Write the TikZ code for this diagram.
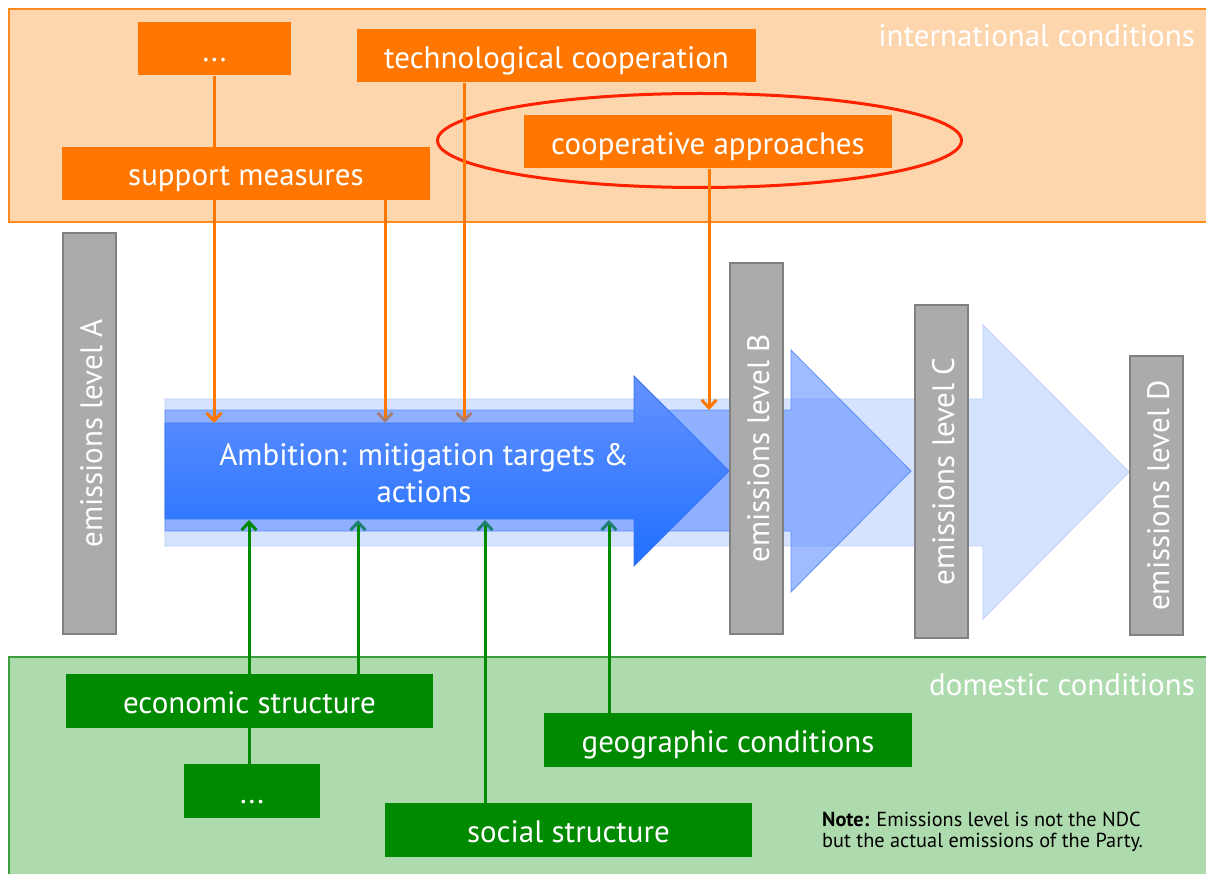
\documentclass[tikz,border=0pt]{standalone}
\usepackage{fontspec}
\setmainfont{PT Sans}
\usetikzlibrary{arrows.meta}
\definecolor{obg}{HTML}{FDD6AD}
\definecolor{oborder}{HTML}{FF8A1E}
\definecolor{obox}{HTML}{FF7700}
\definecolor{gbg}{HTML}{AEDBAD}
\definecolor{gborder}{HTML}{3C9E3C}
\definecolor{gbox}{HTML}{008A00}
\definecolor{barfill}{HTML}{ABABAB}
\definecolor{barline}{HTML}{808080}
\definecolor{tipbrown}{HTML}{A48078}
\definecolor{tipteal}{HTML}{1F7F76}
\definecolor{paleblue}{HTML}{D5E3FE}
\definecolor{paleline}{HTML}{B9CFFB}
\definecolor{midblue}{HTML}{5F8FFF}
\definecolor{midline}{HTML}{4F82F5}
\definecolor{maintop}{HTML}{6592FF}
\definecolor{mainbot}{HTML}{2070FF}
\definecolor{mainline}{HTML}{3A76F2}
\definecolor{ellred}{HTML}{FF2200}
\begin{document}
\begin{tikzpicture}[x=1pt,y=-1pt,
  lbl/.style={font=\fontsize{31}{37}\selectfont, text=white},
  boxtext/.style={lbl, inner sep=0pt, text height=25pt, text depth=0pt},
  obx/.style={boxtext, fill=obox, minimum height=53pt},
  gbx/.style={boxtext, fill=gbox, minimum height=54pt},
  gbar/.style={boxtext, fill=barfill, draw=barline, line width=1.5pt, rotate=90, minimum height=53pt},
  oline/.style={draw=obox, line width=3pt},
  gline/.style={draw=gbox, line width=3pt},
  oarr/.style={oline, -{Straight Barb[length=8pt,width=15pt,color=#1]}},
  garr/.style={gline, -{Straight Barb[length=8pt,width=15pt,color=#1]}},
  bglabel/.style={font=\fontsize{31}{37}\selectfont, text=white, anchor=base east, inner sep=0pt}
]
\useasboundingbox (0,0) rectangle (1206,874);
\clip (0,0) rectangle (1206,874);

% background regions
\draw[fill=obg, draw=oborder, line width=1.5pt] (9,9) rectangle (1215,222);
\draw[fill=gbg, draw=gborder, line width=1.5pt] (9,657) rectangle (1215,885);
\node[bglabel] (intl) at (1195,47) {international conditions};
\node[bglabel] (dom) at (1195,695) {domestic conditions};

% layered arrows
\draw[fill=paleblue, draw=paleline, line width=0.8pt]
  (165,399) -- (983,399) -- (983,325) -- (1129,472) -- (983,619) -- (983,546) -- (165,546) -- cycle;
\draw[fill=midblue, fill opacity=0.6, draw=midline, draw opacity=0.8, line width=0.8pt]
  (165,410) -- (791,410) -- (791,350) -- (911,471) -- (791,592) -- (791,531) -- (165,531) -- cycle;
\shade[top color=maintop, bottom color=mainbot, draw=mainline, line width=0.8pt]
  (165,423) -- (634,423) -- (634,376) -- (729,471) -- (634,566) -- (634,519) -- (165,519) -- cycle;
\node[lbl, align=center, inner sep=0pt] (ambition) at (424,473.5) {Ambition: mitigation targets \&\\actions};

% emission level bars
\node[gbar, minimum width=401pt] (levA) at (89.5,433.5) {emissions level A};
\node[gbar, minimum width=371pt] (levB) at (756.5,448.5) {emissions level B};
\node[gbar, minimum width=333pt] (levC) at (941.5,471.5) {emissions level C};
\node[gbar, minimum width=279pt] (levD) at (1156.5,495.5) {emissions level D};

% international boxes
\node[obx, minimum width=153pt] (odots) at (214.5,49) {...};
\node[obx, minimum width=399pt] (tech) at (556.5,56) {technological cooperation};
\node[obx, minimum width=368pt] (coop) at (708,142) {cooperative approaches};
\node[obx, minimum width=368pt] (support) at (246,173.5) {support measures};
\draw[ellred, line width=3pt] (699.5,140.5) ellipse [x radius=262, y radius=47];

% domestic boxes
\node[gbx, minimum width=367pt] (econ) at (249.5,701) {economic structure};
\node[gbx, minimum width=136pt] (gdots) at (252,791) {...};
\node[gbx, minimum width=367pt] (social) at (568.5,830) {social structure};
\node[gbx, minimum width=368pt] (geo) at (728,740) {geographic conditions};

% connector end points on the ambition arrow
\coordinate (t1) at (214,423);
\coordinate (t2) at (385,423);
\coordinate (t3) at (464,423);
\coordinate (t4) at (709,410);
\coordinate (b1) at (249,520);
\coordinate (b2) at (358,520);
\coordinate (b3) at (485,520);
\coordinate (b4) at (609,520);

% orange connectors
\draw[oline] (odots.south -| t1) -- (support.north -| t1);
\draw[oarr=obox] (support.south -| t1) -- (t1);
\draw[oarr=tipbrown] (support.south -| t2) -- (t2);
\draw[oarr=tipbrown] (tech.south -| t3) -- (t3);
\draw[oarr=obox] (coop.south -| t4) -- (t4);

% green connectors
\draw[gline] (econ.south -| b1) -- (gdots.north -| b1);
\draw[garr=gbox] (econ.north -| b1) -- (b1);
\draw[garr=tipteal] (econ.north -| b2) -- (b2);
\draw[garr=tipteal] (social.north -| b3) -- (b3);
\draw[garr=tipteal] (geo.north -| b4) -- (b4);

% note
\node[anchor=west, align=left, inner sep=0pt, font=\fontsize{20.3}{20.5}\selectfont] (note) at (822,832)
  {\textbf{Note:} Emissions level is not the NDC\\but the actual emissions of the Party.};
\end{tikzpicture}
\end{document}
